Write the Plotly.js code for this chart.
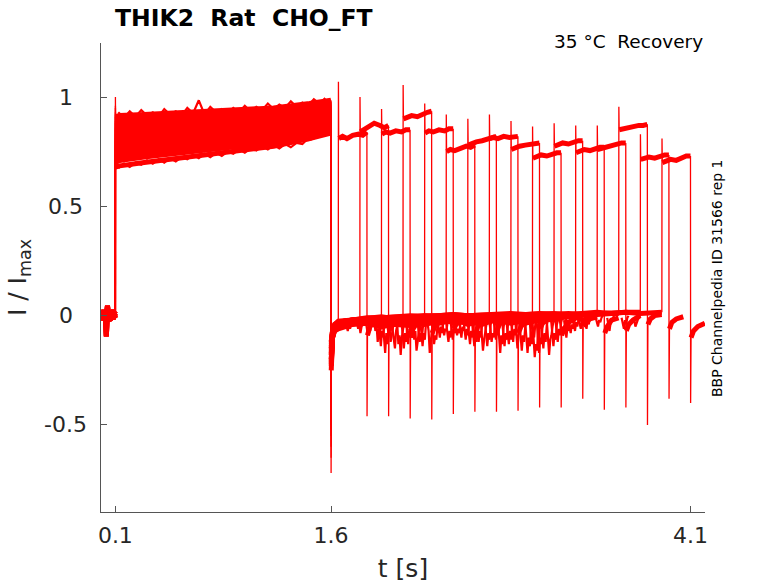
<!DOCTYPE html>
<html>
<head>
<meta charset="utf-8">
<script src="https://cdn.plot.ly/plotly-3.0.1.min.js"></script>
<style>
  html, body { margin: 0; padding: 0; background: #fff; }
  #chart { width: 778px; height: 583px; }
</style>
</head>
<body>
<div id="chart"></div>
<script>
// recovery protocol, 16 sweeps: prepulse 0.1-1.6 s, then test pulse after a growing gap

let xTickVals = [0.1, 1.6, 4.1];
let xTickText = ['0.1', '1.6', '4.1'];
let yTickVals = [-0.5, 0, 0.5, 1];
let yTickText = ['-0.5', '0', '0.5', '1'];

// holding level before the prepulse
let baseT = [0, 0.01, 0.02, 0.03, 0.037, 0.045, 0.055, 0.065, 0.075, 0.085, 0.099];
let baseRows = [
    [0.01, -0.01, 0.015, -0.005, -0.095, 0.02, 0.0, 0.01, -0.01, 0.005, 0.0],
    [-0.01, 0.02, -0.015, 0.01, 0.0, 0.045, -0.01, 0.015, 0.02, -0.015, 0.01],
    [0.0, 0.005, 0.025, -0.02, 0.01, -0.005, 0.02, -0.02, 0.005, 0.025, -0.01],
    [0.02, -0.02, 0.0, 0.02, -0.01, 0.01, -0.025, 0.0, -0.015, 0.0, 0.02]
];

// prepulse
let prePeak = [0.74, 0.76, 0.78, 0.80, 0.81, 0.83, 0.85, 0.86, 0.88, 0.89, 0.91, 0.92, 0.93, 0.95, 0.96, 1.0];
let preT = [0.101, 0.13, 0.3, 0.6, 0.9, 1.2, 1.45, 1.599];
let preRows = [
    [0.68, 0.685, 0.70, 0.725, 0.745, 0.775, 0.81, 0.835],
    [0.70, 0.71, 0.725, 0.75, 0.77, 0.79, 0.81, 0.85],
    [0.72, 0.73, 0.74, 0.765, 0.785, 0.805, 0.83, 0.865],
    [0.74, 0.745, 0.755, 0.78, 0.80, 0.82, 0.845, 0.875],
    [0.755, 0.76, 0.77, 0.79, 0.815, 0.835, 0.86, 0.885],
    [0.77, 0.775, 0.785, 0.805, 0.825, 0.85, 0.87, 0.895],
    [0.785, 0.79, 0.80, 0.815, 0.84, 0.86, 0.88, 0.905],
    [0.80, 0.80, 0.81, 0.83, 0.85, 0.87, 0.89, 0.915],
    [0.815, 0.815, 0.825, 0.84, 0.86, 0.88, 0.90, 0.925],
    [0.83, 0.83, 0.84, 0.855, 0.87, 0.89, 0.91, 0.93],
    [0.845, 0.845, 0.85, 0.865, 0.88, 0.90, 0.92, 0.94],
    [0.86, 0.86, 0.865, 0.875, 0.89, 0.91, 0.93, 0.95],
    [0.875, 0.875, 0.88, 0.89, 0.90, 0.92, 0.94, 0.96],
    [0.885, 0.89, 0.895, 0.905, 0.915, 0.93, 0.95, 0.97],
    [0.90, 0.905, 0.91, 0.92, 0.925, 0.94, 0.96, 0.98],
    [0.91, 0.915, 0.92, 0.93, 0.935, 0.95, 0.97, 0.985]
];
// ragged upper and lower edge of the prepulse band
let edgeT = [0.12, 0.16, 0.20, 0.24, 0.28, 0.32, 0.36, 0.40, 0.44, 0.48, 0.52, 0.56, 0.60,
             0.64, 0.68, 0.72, 0.76, 0.80, 0.84, 0.88, 0.92, 0.96, 1.00, 1.04, 1.08, 1.12,
             1.16, 1.20, 1.24, 1.28, 1.32, 1.36, 1.40, 1.44, 1.48, 1.52, 1.56];
let edgeTop = [0.93, 0.905, 0.935, 0.91, 0.94, 0.915, 0.93, 0.91, 0.945, 0.92, 0.935, 0.915, 0.95,
               0.925, 0.985, 0.92, 0.955, 0.93, 0.945, 0.925, 0.95, 0.93, 0.96, 0.935, 0.955, 0.94,
               0.97, 0.945, 0.965, 0.95, 0.98, 0.955, 0.975, 0.96, 0.99, 0.97, 0.995];
let edgeBot = [0.675, 0.695, 0.68, 0.70, 0.69, 0.71, 0.695, 0.715, 0.70, 0.72, 0.705, 0.725, 0.715,
               0.735, 0.72, 0.74, 0.725, 0.745, 0.73, 0.75, 0.74, 0.76, 0.745, 0.765, 0.755, 0.775,
               0.76, 0.78, 0.765, 0.785, 0.77, 0.79, 0.785, 0.81, 0.83, 0.86, 0.835];
let preDip = [-0.35, -0.42, -0.5, -0.3, -0.45, -0.55, -0.38, -0.6, -0.4, -0.48, -0.33, -0.52, -0.44, -0.65, -0.36, -0.72];

// gap between prepulse and test pulse
let restT = [1.601, 1.61, 1.625, 1.65, 1.75, 1.85, 1.95, 2.05, 2.15, 2.25, 2.35, 2.45, 2.55,
             2.65, 2.75, 2.85, 2.95, 3.05, 3.15, 3.25, 3.35, 3.45, 3.55, 3.65, 3.75, 3.85];
let restRows = [
    [-0.2, -0.09, -0.06],
    [-0.15, -0.08, -0.05, -0.04, -0.03],
    [-0.22, -0.1, -0.06, -0.05, -0.03, -0.035],
    [-0.18, -0.09, -0.06, -0.05, -0.035, -0.03, -0.04, -0.03],
    [-0.12, -0.07, -0.045, -0.03, -0.02, -0.015, -0.025, -0.03, -0.02],
    [-0.25, -0.1, -0.07, -0.06, -0.04, -0.035, -0.05, -0.04, -0.045, -0.03, -0.025],
    [-0.14, -0.08, -0.05, -0.03, -0.02, -0.015, -0.03, -0.04, -0.035, -0.03, -0.02, -0.03],
    [-0.2, -0.1, -0.06, -0.045, -0.03, -0.025, -0.02, -0.035, -0.03, -0.04, -0.025, -0.02, -0.03, -0.02],
    [-0.16, -0.08, -0.05, -0.04, -0.025, -0.02, -0.03, -0.02, -0.015, -0.03, -0.035, -0.02, -0.025, -0.04, -0.015],
    [-0.18, -0.09, -0.055, -0.04, -0.03, -0.02, -0.015, -0.025, -0.04, -0.02, -0.015, -0.01, -0.04, -0.025, -0.02, -0.035, -0.02],
    [-0.13, -0.07, -0.04, -0.03, -0.02, -0.02, -0.03, -0.015, -0.01, -0.005, -0.02, -0.015, -0.01, -0.005, -0.03, -0.015, -0.025, -0.01],
    [-0.21, -0.1, -0.06, -0.04, -0.03, -0.02, -0.015, -0.01, -0.005, -0.015, -0.01, -0.025, -0.01, -0.005, 0, -0.02, -0.035, -0.02, -0.01, -0.005],
    [-0.15, -0.08, -0.045, -0.03, -0.02, -0.01, -0.005, -0.015, -0.005, 0, -0.005, 0, -0.015, 0, -0.03, -0.01, 0, -0.015, -0.02, 0.0, 0.005],
    [-0.23, -0.1, -0.06, -0.04, -0.03, -0.02, -0.015, -0.01, -0.01, -0.005, 0, -0.005, 0, 0, 0.005, 0, -0.01, 0.005, 0, 0.005, -0.02, 0.005, 0.01],
    [-0.17, -0.09, -0.05, -0.03, -0.02, -0.015, -0.01, -0.005, 0, -0.005, 0.0, 0.005, 0, 0.005, 0.005, 0, 0.005, 0.01, 0.005, 0.01, 0.005, 0.01, 0.01, 0.015],
    [-0.12, -0.07, -0.04, -0.025, -0.02, -0.01, -0.01, -0.005, -0.005, 0, 0, 0.005, 0, 0.005, 0.005, 0.01, 0.005, 0.01, 0.01, 0.005, 0.01, 0.015, 0.01, 0.015, 0.01, 0.015]
];
// short negative noise bursts during the gap (7 samples, 8 ms apart)
let burstStep = 0.008;
let burstT = [1.70, 1.78, 1.84, 1.90, 1.93, 1.96, 1.99, 2.02, 2.06, 2.09, 2.12, 2.14, 2.17, 2.20,
              2.22, 2.27, 2.30, 2.34, 2.37, 2.40, 2.43, 2.46, 2.49, 2.52, 2.55, 2.58, 2.61, 2.64,
              2.67, 2.70, 2.73, 2.76, 2.79, 2.82, 2.85, 2.88, 2.91, 2.95, 2.98, 3.00, 3.03, 3.06,
              3.10, 3.13, 3.16, 3.19, 3.22, 3.25, 3.28, 3.32, 3.36, 3.44, 3.52, 3.62, 3.70];
let burstRows = [
    [-0.03, -0.05, -0.07, -0.04, -0.06, -0.03, -0.02],
    [-0.03, -0.06, -0.04, -0.08, -0.05, -0.04, -0.02],
    [-0.02, -0.05, -0.09, -0.06, -0.07, -0.03, -0.02],
    [-0.02, -0.07, -0.04, -0.12, -0.06, -0.09, -0.03],
    [-0.03, -0.09, -0.14, -0.07, -0.10, -0.04, -0.02],
    [-0.03, -0.10, -0.17, -0.08, -0.13, -0.05, -0.02],
    [-0.02, -0.08, -0.05, -0.12, -0.09, -0.04, -0.02],
    [-0.02, -0.06, -0.11, -0.15, -0.07, -0.04, -0.02],
    [-0.04, -0.13, -0.09, -0.18, -0.10, -0.06, -0.03],
    [-0.03, -0.10, -0.15, -0.08, -0.12, -0.05, -0.02],
    [-0.02, -0.08, -0.13, -0.06, -0.10, -0.04, -0.02],
    [-0.02, -0.06, -0.10, -0.07, -0.09, -0.03, -0.02],
    [-0.03, -0.11, -0.07, -0.16, -0.12, -0.05, -0.02],
    [-0.02, -0.07, -0.12, -0.08, -0.10, -0.04, -0.02],
    [-0.02, -0.09, -0.14, -0.08, -0.11, -0.03, -0.02],
    [-0.03, -0.07, -0.17, -0.12, -0.06, -0.09, -0.02],
    [-0.02, -0.08, -0.13, -0.09, -0.11, -0.04, -0.02],
    [-0.02, -0.06, -0.10, -0.05, -0.08, -0.03, -0.02],
    [-0.02, -0.05, -0.09, -0.06, -0.07, -0.03, -0.01],
    [-0.03, -0.08, -0.12, -0.07, -0.10, -0.04, -0.02],
    [-0.02, -0.07, -0.11, -0.06, -0.08, -0.03, -0.02],
    [-0.02, -0.05, -0.09, -0.06, -0.08, -0.03, -0.01],
    [-0.02, -0.06, -0.10, -0.05, -0.07, -0.03, -0.02],
    [-0.02, -0.07, -0.11, -0.06, -0.09, -0.04, -0.02],
    [-0.03, -0.09, -0.13, -0.07, -0.10, -0.04, -0.02],
    [-0.03, -0.10, -0.14, -0.08, -0.12, -0.05, -0.02],
    [-0.02, -0.08, -0.12, -0.07, -0.10, -0.04, -0.02],
    [-0.02, -0.09, -0.16, -0.11, -0.07, -0.04, -0.02],
    [-0.03, -0.10, -0.14, -0.08, -0.11, -0.04, -0.02],
    [-0.03, -0.06, -0.12, -0.08, -0.10, -0.03, -0.02],
    [-0.02, -0.07, -0.11, -0.06, -0.09, -0.04, -0.02],
    [-0.02, -0.11, -0.17, -0.09, -0.13, -0.05, -0.02],
    [-0.03, -0.09, -0.14, -0.08, -0.11, -0.04, -0.02],
    [-0.03, -0.08, -0.13, -0.07, -0.11, -0.04, -0.01],
    [-0.02, -0.07, -0.12, -0.06, -0.09, -0.04, -0.02],
    [-0.02, -0.10, -0.15, -0.09, -0.06, -0.04, -0.02],
    [-0.03, -0.11, -0.16, -0.09, -0.12, -0.05, -0.02],
    [-0.03, -0.12, -0.17, -0.10, -0.14, -0.05, -0.02],
    [-0.02, -0.08, -0.13, -0.07, -0.10, -0.04, -0.02],
    [-0.02, -0.09, -0.19, -0.13, -0.16, -0.06, -0.02],
    [-0.03, -0.11, -0.17, -0.10, -0.13, -0.05, -0.02],
    [-0.03, -0.11, -0.15, -0.08, -0.12, -0.04, -0.02],
    [-0.02, -0.13, -0.18, -0.11, -0.09, -0.05, -0.02],
    [-0.02, -0.09, -0.14, -0.08, -0.11, -0.04, -0.02],
    [-0.02, -0.07, -0.12, -0.06, -0.09, -0.03, -0.01],
    [-0.02, -0.05, -0.09, -0.05, -0.07, -0.03, -0.01],
    [-0.02, -0.06, -0.10, -0.05, -0.07, -0.03, -0.01],
    [-0.02, -0.05, -0.08, -0.04, -0.06, -0.02, -0.01],
    [-0.01, -0.04, -0.07, -0.03, -0.05, -0.02, -0.01],
    [-0.01, -0.03, -0.06, -0.03, -0.04, -0.02, -0.01],
    [-0.01, -0.03, -0.06, -0.02, -0.04, -0.01, 0.0],
    [-0.01, -0.03, -0.05, -0.02, -0.03, -0.01, 0.0],
    [-0.01, -0.04, -0.07, -0.03, -0.02, -0.01, 0.0],
    [-0.01, -0.03, -0.06, -0.02, -0.04, -0.01, 0.0],
    [-0.01, -0.02, -0.05, -0.03, -0.02, -0.01, 0.0]
];

// test pulse
let testOn  = [1.65, 1.80, 1.95, 2.10, 2.25, 2.40, 2.55, 2.70, 2.85, 3.00, 3.15, 3.30, 3.45, 3.60, 3.75, 3.90];
let testOff = [1.85, 2.00, 2.15, 2.30, 2.45, 2.60, 2.75, 2.90, 3.05, 3.20, 3.35, 3.50, 3.65, 3.80, 3.95, 4.10];
let testPeak = [1.07, 1.00, 0.945, 1.055, 0.97, 0.92, 0.90, 0.92, 0.89, 0.865, 0.88, 0.87, 0.87, 0.955, 0.83, 0.81];
let plT = [0.003, 0.03, 0.06, 0.1, 0.14, 0.17, 0.199];
let plRows = [
    [0.81, 0.82, 0.81, 0.825, 0.83, 0.825, 0.84],
    [0.84, 0.85, 0.865, 0.88, 0.87, 0.86, 0.87],
    [0.83, 0.84, 0.835, 0.845, 0.84, 0.85, 0.85],
    [0.90, 0.905, 0.915, 0.91, 0.925, 0.93, 0.935],
    [0.835, 0.845, 0.84, 0.85, 0.845, 0.855, 0.855],
    [0.75, 0.76, 0.755, 0.765, 0.775, 0.77, 0.78],
    [0.78, 0.79, 0.795, 0.80, 0.81, 0.815, 0.82],
    [0.81, 0.815, 0.81, 0.82, 0.815, 0.82, 0.82],
    [0.76, 0.77, 0.775, 0.78, 0.785, 0.79, 0.79],
    [0.72, 0.725, 0.735, 0.73, 0.74, 0.745, 0.745],
    [0.775, 0.785, 0.79, 0.785, 0.795, 0.80, 0.80],
    [0.745, 0.75, 0.76, 0.755, 0.765, 0.77, 0.77],
    [0.76, 0.765, 0.775, 0.78, 0.785, 0.79, 0.79],
    [0.85, 0.855, 0.86, 0.865, 0.87, 0.87, 0.875],
    [0.715, 0.72, 0.725, 0.72, 0.73, 0.735, 0.735],
    [0.70, 0.705, 0.715, 0.71, 0.72, 0.73, 0.73]
];
let testDip = [-0.46, -0.46, -0.47, -0.475, -0.45, -0.44, -0.44, -0.435, -0.42, -0.42, -0.38, -0.43, -0.42, -0.50, -0.38, -0.40];

// tail after the test pulse
let postT = [0.003, 0.02, 0.05, 0.099];
let postRows = [
    [-0.09, -0.05, -0.03, -0.02],
    [-0.07, -0.04, -0.025, -0.015],
    [-0.1, -0.06, -0.03, -0.02],
    [-0.08, -0.05, -0.02, -0.01],
    [-0.06, -0.04, -0.02, -0.015],
    [-0.09, -0.05, -0.03, -0.01],
    [-0.07, -0.04, -0.02, -0.01],
    [-0.08, -0.05, -0.025, -0.01],
    [-0.06, -0.035, -0.02, -0.005],
    [-0.09, -0.06, -0.03, -0.015],
    [-0.05, -0.03, -0.015, -0.005],
    [-0.08, -0.05, -0.02, -0.01],
    [-0.07, -0.04, -0.02, 0.0],
    [-0.04, -0.015, 0.0, 0.005],
    [-0.06, -0.03, -0.015, -0.005],
    [-0.1, -0.07, -0.05, -0.035]
];

let levelX = [], levelY = [];
let spikeX = [], spikeY = [];
let noiseX = [], noiseY = [];

function addSeg(xs, ys, tx, ty) {
    for (let i = 0; i < xs.length; ++i) {
        tx.push(xs[i]);
        ty.push(ys[i]);
    }
    tx.push(null);
    ty.push(null);
}

for (let k = 0; k < testOn.length; ++k) {
    let b = baseRows[k % baseRows.length];
    let p = preRows[k];
    let pl = plRows[k];
    let po = postRows[k];

    addSeg(baseT, b, levelX, levelY);
    addSeg([0.1, 0.1003, preT[0]], [b[b.length - 1], prePeak[k], p[0]], spikeX, spikeY);
    addSeg(preT, p, levelX, levelY);

    let rx = [], ry = [];
    for (let i = 0; i < restRows[k].length && restT[i] < testOn[k]; ++i) {
        rx.push(restT[i]);
        ry.push(restRows[k][i]);
    }
    rx.push(testOn[k]);
    ry.push(ry[ry.length - 1]);
    addSeg([preT[preT.length - 1], 1.6, restT[0]], [p[p.length - 1], preDip[k], ry[0]], spikeX, spikeY);
    addSeg(rx, ry, levelX, levelY);

    addSeg([testOn[k], testOn[k] + 0.001, testOn[k] + plT[0]],
           [ry[ry.length - 1], testPeak[k], pl[0]], spikeX, spikeY);
    addSeg(plT.map(d => testOn[k] + d), pl, levelX, levelY);

    addSeg([testOn[k] + plT[plT.length - 1], testOff[k], testOff[k] + postT[0]],
           [pl[pl.length - 1], testDip[k], po[0]], spikeX, spikeY);
    addSeg(postT.map(d => testOff[k] + d), po, levelX, levelY);
}

addSeg(edgeT, edgeTop, noiseX, noiseY);
addSeg(edgeT, edgeBot, noiseX, noiseY);
for (let j = 0; j < burstT.length; ++j) {
    addSeg(burstRows[j].map((v, i) => burstT[j] + i * burstStep), burstRows[j], noiseX, noiseY);
}

let levels = {
    x: levelX, y: levelY,
    mode: 'lines', type: 'scatter',
    line: { color: '#ff0000', width: 5 },
    connectgaps: false, hoverinfo: 'skip'
};
let noise = {
    x: noiseX, y: noiseY,
    mode: 'lines', type: 'scatter',
    line: { color: '#ff0000', width: 2.2 },
    connectgaps: false, hoverinfo: 'skip'
};
let spikes = {
    x: spikeX, y: spikeY,
    mode: 'lines', type: 'scatter',
    line: { color: '#ff0000', width: 1.3 },
    connectgaps: false, hoverinfo: 'skip'
};

let txtColor = '#262626';

// y tick labels sit centred left of the axis, as in the original figure
let yLabels = yTickVals.map((v, i) => ({
    text: yTickText[i],
    font: { size: 22, color: txtColor },
    showarrow: false,
    xref: 'paper', yref: 'y',
    x: -0.058, xanchor: 'center',
    y: v, yanchor: 'middle'
}));

let layout = {
    width: 778, height: 583,
    margin: { l: 101, r: 73, t: 43, b: 71 },
    paper_bgcolor: '#ffffff', plot_bgcolor: '#ffffff',
    showlegend: false,
    font: { family: 'DejaVu Sans', color: txtColor },
    xaxis: {
        range: [0, 4.2],
        tickvals: xTickVals, ticktext: xTickText,
        ticks: 'inside', ticklen: 6, tickcolor: '#555', tickwidth: 1,
        showline: true, linecolor: '#555', linewidth: 1,
        showgrid: false, zeroline: false,
        tickfont: { size: 22, color: txtColor },
        ticklabelstandoff: 4,
        title: { text: 't [s]', font: { size: 25, color: txtColor }, standoff: 12 }
    },
    yaxis: {
        range: [-0.898, 1.247],
        tickvals: yTickVals,
        showticklabels: false,
        ticks: 'inside', ticklen: 6, tickcolor: '#555', tickwidth: 1,
        showline: true, linecolor: '#555', linewidth: 1,
        showgrid: false, zeroline: false,
        title: { text: 'I / I<sub>max</sub>', font: { size: 25, color: txtColor }, standoff: 66 }
    },
    annotations: yLabels.concat([
        {
            text: '<b>THIK2\u00a0\u00a0Rat\u00a0\u00a0CHO_FT</b>',
            font: { size: 23.5, color: '#000' },
            showarrow: false,
            xref: 'paper', yref: 'paper',
            x: 0.02, xanchor: 'left',
            y: 1.053, yanchor: 'middle'
        },
        {
            text: '35 °C\u00a0\u00a0Recovery',
            font: { size: 18.5, color: '#000' },
            showarrow: false,
            xref: 'paper', yref: 'paper',
            x: 1.0, xanchor: 'right',
            y: 1.004, yanchor: 'middle'
        },
        {
            text: 'BBP Channelpedia ID 31566 rep 1',
            font: { size: 14, color: '#000' },
            showarrow: false, textangle: -90,
            xref: 'paper', yref: 'paper',
            x: 1.02, xanchor: 'center',
            y: 0.499, yanchor: 'middle'
        }
    ])
};

Plotly.newPlot('chart', [levels, noise, spikes], layout, { displayModeBar: false, staticPlot: true });
</script>
</body>
</html>
